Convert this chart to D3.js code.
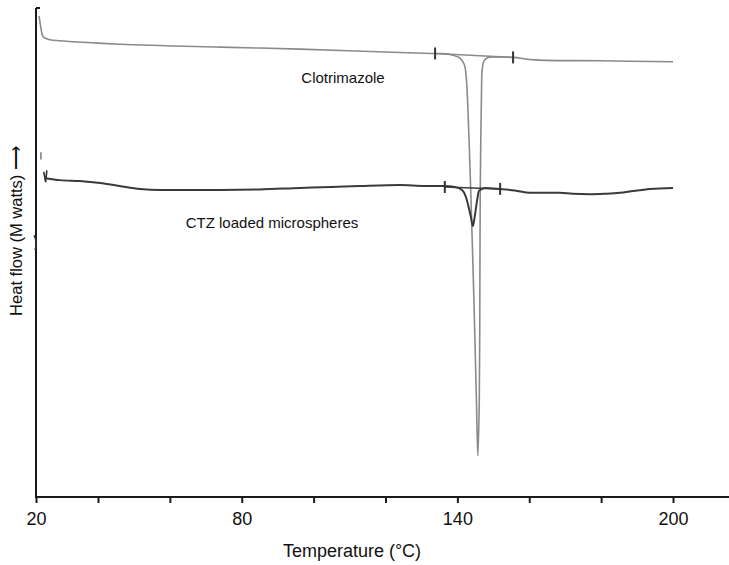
<!DOCTYPE html>
<html><head><meta charset="utf-8">
<script src="https://cdn.jsdelivr.net/npm/d3@7/dist/d3.min.js"></script>
<style>
html,body{margin:0;padding:0;background:#fff;}
svg{display:block;font-family:"Liberation Sans",Arial,sans-serif;}
</style></head>
<body>
<svg id="chart" width="729" height="565"></svg>
<script>
// ---- data (temperature in °C, heat flow in arbitrary units) ----
const clotrimazoleTemp = [21.0,21.6,22.3,24.5,27.7,46.1,73.9,96.2,124.0,133.8,137.9,140.6,141.9,142.5,142.9,143.3,143.8,144.6,145.3,145.7,146.1,146.25,146.35,146.5,146.7,146.9,147.4,148.5,150.5,155.5,161.6,179.7,200.0];
const clotrimazoleFlow = [98.4,95.9,94.1,93.5,93.3,92.6,92.0,91.6,90.9,90.7,90.5,89.8,88.5,85.5,80.0,72.0,60.7,40.3,19.8,8.4,19.8,40.3,60.7,72.0,82.0,87.3,89.2,89.9,90.0,89.9,89.4,89.2,89.0];
const ctzTemp = [23.2,27.7,34.0,40.6,46.0,51.7,57.3,65.0,73.9,85.0,96.2,105.0,112.9,124.0,131.0,136.5,139.3,141.3,142.4,143.2,143.8,144.3,144.9,145.5,146.0,147.7,151.9,156.0,160.2,164.0,168.5,172.0,176.9,181.0,185.2,189.0,193.6,200.0];
const ctzFlow = [65.2,64.8,64.6,64.2,63.6,63.0,62.8,62.8,62.8,62.9,63.2,63.4,63.6,63.8,63.6,63.6,63.4,62.8,61.3,59.1,57.1,55.4,57.7,60.7,62.6,63.2,63.0,62.7,62.2,62.2,62.2,62.0,61.9,62.0,62.2,62.6,63.0,63.2];
// onset / endset markers and extrapolated baselines
const clotrimazoleMarks = [{t:133.8, f:90.7},{t:155.5, f:89.9}];
const ctzMarks = [{t:136.5, f:63.4},{t:151.9, f:63.0}];
const seriesLabels = ["Clotrimazole","CTZ loaded microspheres"];
const xTickValues = [20,40,60,80,100,120,140,160,180,200];
const xTickLabels = ["20","80","140","200"];
const xLabel = "Temperature (°C)";
const yLabel = "Heat flow (M watts) \u27F6";

// ---- layout ----
const svg = d3.select("#chart");
const mLeft = 36, mBottom = 497, mTop = 8, mRight = 729;
const x = d3.scaleLinear().domain([20,40,200]).range([mLeft,98,673]);
const y = d3.scaleLinear().domain([0,100]).range([mBottom,mBottom-489]);

// axes
const axisColor = "#1a1a1a";
svg.append("line").attr("x1",mLeft).attr("x2",mLeft).attr("y1",mTop).attr("y2",mBottom+1)
  .attr("stroke",axisColor).attr("stroke-width",2);
svg.append("line").attr("x1",mLeft).attr("x2",mLeft+4).attr("y1",mTop).attr("y2",mTop)
  .attr("stroke",axisColor).attr("stroke-width",2);
svg.append("line").attr("x1",mLeft-1).attr("x2",mRight).attr("y1",mBottom).attr("y2",mBottom)
  .attr("stroke",axisColor).attr("stroke-width",2.2);
// small mark on the y axis
svg.append("path").attr("d",`M${mLeft-2},${y(53.5)}Q${mLeft+2},${y(52)} ${mLeft-1},${y(50.5)}`)
  .attr("fill","none").attr("stroke","#333").attr("stroke-width",1.5);

const xAxis = d3.axisBottom(x).tickValues(xTickValues).tickSize(6)
  .tickFormat(d => xTickLabels.includes(String(d)) ? String(d) : "");
const gx = svg.append("g").attr("transform",`translate(0,${mBottom})`).call(xAxis);
gx.select(".domain").remove();
gx.selectAll(".tick line").attr("stroke",axisColor).attr("stroke-width",2);
gx.selectAll(".tick text").attr("font-size",18).attr("fill","#111")
  .attr("font-family","'Liberation Sans',Arial,sans-serif").attr("y",15);

svg.append("text").attr("x",352).attr("y",557).attr("text-anchor","middle")
  .attr("font-size",18).attr("fill","#111").text(xLabel);
svg.append("text").attr("transform","translate(22,231) rotate(-90)").attr("text-anchor","middle")
  .attr("font-size",16.5).attr("fill","#111").text(yLabel);

// lines
const line = d3.line().x(d=>x(d[0])).y(d=>y(d[1])).curve(d3.curveCatmullRom.alpha(0.5));
const line2 = d3.line().x(d=>x(d[0])).y(d=>y(d[1])).curve(d3.curveMonotoneX);
svg.append("path").datum(d3.zip(clotrimazoleTemp,clotrimazoleFlow))
  .attr("d",line).attr("fill","none").attr("stroke","#8a8a8a").attr("stroke-width",1.6);
svg.append("path").datum(d3.zip(ctzTemp,ctzFlow))
  .attr("d",line2).attr("fill","none").attr("stroke","#3a3a3a").attr("stroke-width",2);

// baselines and onset marks
function marks(arr,color,w){
  svg.append("line").attr("x1",x(arr[0].t)).attr("y1",y(arr[0].f))
    .attr("x2",x(arr[1].t)).attr("y2",y(arr[1].f)).attr("stroke",color).attr("stroke-width",w);
  arr.forEach(m=>{
    svg.append("line").attr("x1",x(m.t)).attr("x2",x(m.t)).attr("y1",y(m.f)-6).attr("y2",y(m.f)+6)
      .attr("stroke","#333").attr("stroke-width",2);
  });
}
marks(clotrimazoleMarks,"#8a8a8a",1.4);
marks(ctzMarks,"#3a3a3a",1.4);

// small start marks of CTZ trace
svg.append("line").attr("x1",x(21.6)).attr("x2",x(21.6)).attr("y1",y(70.5)).attr("y2",y(69.0))
  .attr("stroke","#777").attr("stroke-width",1.5);
svg.append("path").attr("d",`M${x(22.5)},${y(66.5)}L${x(23.1)},${y(64.4)}L${x(23.5)},${y(66.8)}`)
  .attr("fill","none").attr("stroke","#333").attr("stroke-width",1.6);

// series labels
svg.append("text").attr("x",343).attr("y",83).attr("text-anchor","middle")
  .attr("font-size",15).attr("fill","#111").text(seriesLabels[0]);
svg.append("text").attr("x",272).attr("y",228).attr("text-anchor","middle")
  .attr("font-size",15).attr("fill","#111").text(seriesLabels[1]);
</script>
</body></html>
